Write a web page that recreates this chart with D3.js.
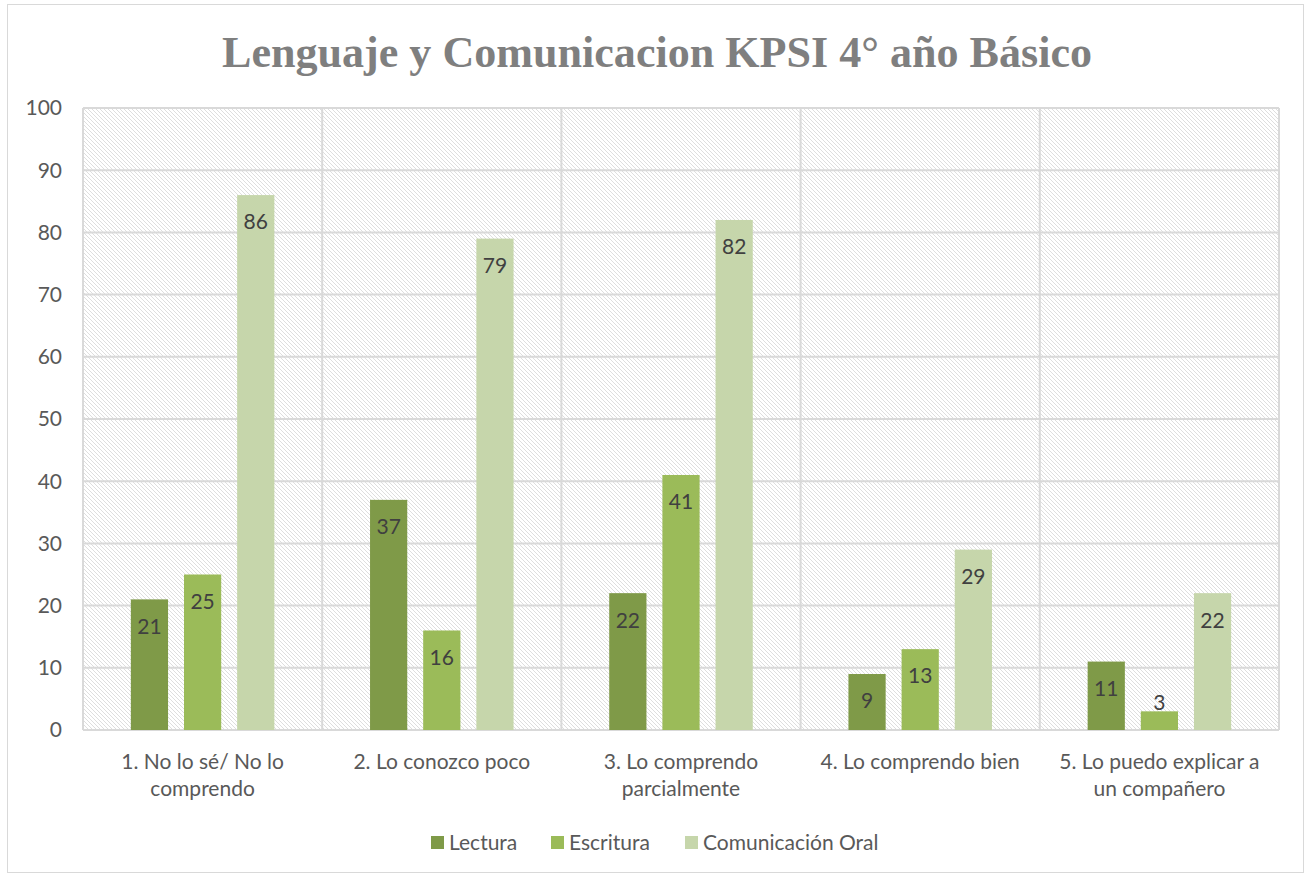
<!DOCTYPE html>
<html>
<head>
<meta charset="utf-8">
<script src="https://cdn.jsdelivr.net/npm/d3@7"></script>
<style>
  body { margin: 0; background: #fff; }
  text { font-family: Lato, "Open Sans", sans-serif; }
</style>
</head>
<body>
<svg id="chart" width="1307" height="877"></svg>
<script>
const categories = [
  ["1. No lo sé/ No lo", "comprendo"],
  ["2. Lo conozco poco"],
  ["3. Lo comprendo", "parcialmente"],
  ["4. Lo comprendo bien"],
  ["5. Lo puedo explicar a", "un compañero"]
];
const seriesNames = ["Lectura", "Escritura", "Comunicación Oral"];
const lectura = [21, 37, 22, 9, 11];
const escritura = [25, 16, 41, 13, 3];
const oral = [86, 79, 82, 29, 22];
const yTicks = [0, 10, 20, 30, 40, 50, 60, 70, 80, 90, 100];
const colors = ["#7f9a48", "#9bbb59", "#c6d6ab"];

var svg = d3.select("#chart");
var margin = { top: 108, right: 28, bottom: 147, left: 83 };
var width = +svg.attr("width") - margin.left - margin.right;
var height = +svg.attr("height") - margin.top - margin.bottom;

// chart border
svg.append("rect")
  .attr("x", 7.5).attr("y", 4.5)
  .attr("width", 1296).attr("height", 868)
  .attr("fill", "#fff")
  .attr("stroke", "#d9d9d9");

// hatch pattern for plot area
var defs = svg.append("defs");
var pat = defs.append("pattern")
  .attr("id", "hatch")
  .attr("patternUnits", "userSpaceOnUse")
  .attr("width", 4).attr("height", 4);
pat.append("rect").attr("width", 4).attr("height", 4).attr("fill", "#fff");
pat.append("path")
  .attr("d", "M-1,-1 L5,5 M-1,3 L1,5 M3,-1 L5,1")
  .attr("stroke", "#dadada")
  .attr("stroke-width", 0.9);

svg.append("text")
  .attr("x", 657)
  .attr("y", 67)
  .attr("text-anchor", "middle")
  .attr("textLength", 870)
  .attr("lengthAdjust", "spacingAndGlyphs")
  .style("font-family", "'Liberation Serif', serif")
  .style("font-weight", "bold")
  .style("font-size", "44px")
  .attr("fill", "#7f7f7f")
  .text("Lenguaje y Comunicacion KPSI 4° año Básico");

var g = svg.append("g").attr("transform", `translate(${margin.left},${margin.top})`);

var x0 = d3.scaleBand().domain(d3.range(categories.length)).range([0, width]);
var x1 = d3.scaleBand().domain(d3.range(seriesNames.length))
  .range([x0.bandwidth() * 0.2, x0.bandwidth() * 0.8]).paddingInner(0.3);
var y = d3.scaleLinear().domain([0, 100]).range([height, 0]);

g.append("rect")
  .attr("width", width).attr("height", height)
  .attr("fill", "url(#hatch)");

// horizontal gridlines
g.selectAll(".hgrid").data(yTicks).join("line")
  .attr("class", "hgrid")
  .attr("x1", 0).attr("x2", width)
  .attr("y1", d => y(d)).attr("y2", d => y(d))
  .attr("stroke", "#d9d9d9").attr("stroke-width", 2);

// vertical gridlines at category boundaries
g.selectAll(".vgrid").data(d3.range(categories.length + 1)).join("line")
  .attr("class", "vgrid")
  .attr("x1", d => d * x0.step()).attr("x2", d => d * x0.step())
  .attr("y1", 0).attr("y2", height)
  .attr("stroke", "#d9d9d9").attr("stroke-width", 2);

// y axis labels
g.selectAll(".ytick").data(yTicks).join("text")
  .attr("class", "ytick")
  .attr("x", -21)
  .attr("y", d => y(d))
  .attr("dy", "0.35em")
  .attr("text-anchor", "end")
  .attr("fill", "#595959")
  .style("font-size", "21px")
  .text(d => d);

const allSeries = [lectura, escritura, oral];
allSeries.forEach((vals, s) => {
  g.selectAll(".bar" + s).data(vals).join("rect")
    .attr("class", "bar" + s)
    .attr("x", (d, i) => x0(i) + x1(s))
    .attr("width", x1.bandwidth())
    .attr("y", d => y(d))
    .attr("height", d => height - y(d))
    .attr("fill", colors[s]);

  g.selectAll(".lbl" + s).data(vals).join("text")
    .attr("class", "lbl" + s)
    .attr("x", (d, i) => x0(i) + x1(s) + x1.bandwidth() / 2)
    .attr("y", d => Math.min(y(d) + 27, height - 27))
    .attr("dy", "0.35em")
    .attr("text-anchor", "middle")
    .attr("fill", "#404040")
    .style("font-size", "21px")
    .text(d => d);
});

// category labels
categories.forEach((lines, i) => {
  lines.forEach((ln, k) => {
    g.append("text")
      .attr("x", x0(i) + x0.bandwidth() / 2)
      .attr("y", height + 39 + k * 27)
      .attr("text-anchor", "middle")
      .attr("fill", "#595959")
      .style("font-size", "21px")
      .text(ln);
  });
});

// legend
var legendX = [431, 551, 685];
var legend = svg.append("g");
seriesNames.forEach((name, s) => {
  legend.append("rect")
    .attr("x", legendX[s]).attr("y", 836)
    .attr("width", 13).attr("height", 13)
    .attr("fill", colors[s]);
  legend.append("text")
    .attr("x", legendX[s] + 18).attr("y", 850)
    .attr("fill", "#595959")
    .style("font-size", "21px")
    .text(name);
});
</script>
</body>
</html>
